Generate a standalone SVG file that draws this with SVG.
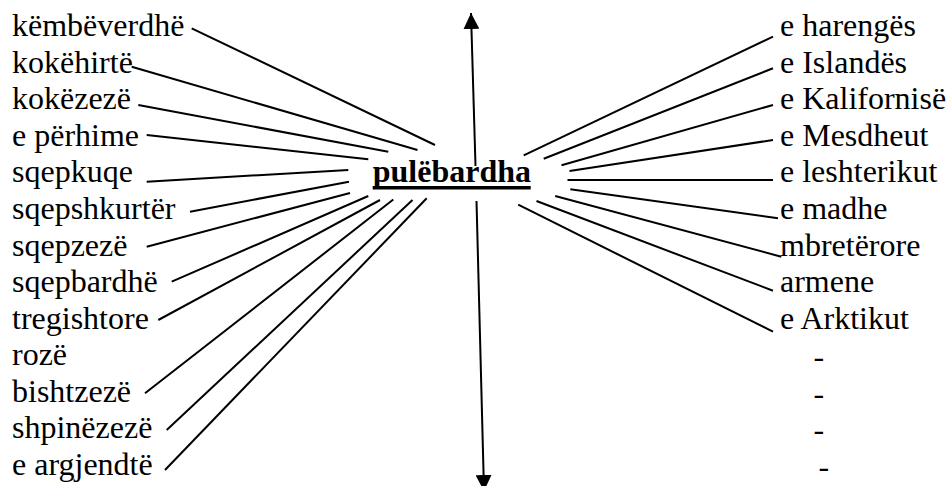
<svg xmlns="http://www.w3.org/2000/svg" width="948" height="486" viewBox="0 0 948 486">
<defs>
<style>
.t{font-family:'Liberation Serif','Times New Roman',Times,serif;font-size:32px;fill:#000}
.c{font-weight:bold}
.ln{stroke:#000;stroke-width:2;fill:none}
</style>
<marker id="ah" markerUnits="userSpaceOnUse" markerWidth="16" markerHeight="16" refX="16" refY="8" orient="auto"><path d="M0,0 L16,8 L0,16 z" fill="#000"/></marker>
</defs>
<rect width="948" height="486" fill="#fff"/>
<g id="center" class="t">
<text class="t c" x="372.7" y="182">pulëbardha</text>
<rect x="372.7" y="186" width="158" height="3.5" fill="#000"/>
</g>
<g id="left-labels" class="t">
<g id="l1"><text class="t" x="12" y="36">këmbëverdhë</text></g>
<g id="l2"><text class="t" x="12" y="72.6">kokëhirtë</text></g>
<g id="l3"><text class="t" x="12" y="109.2">kokëzezë</text></g>
<g id="l4"><text class="t" x="12" y="145.7">e përhime</text></g>
<g id="l5"><text class="t" x="12" y="182.3">sqepkuqe</text></g>
<g id="l6"><text class="t" x="12" y="218.9">sqepshkurtër</text></g>
<g id="l7"><text class="t" x="12" y="255.5">sqepzezë</text></g>
<g id="l8"><text class="t" x="12" y="292.1">sqepbardhë</text></g>
<g id="l9"><text class="t" x="12" y="328.6">tregishtore</text></g>
<g id="l10"><text class="t" x="12" y="365.2">rozë</text></g>
<g id="l11"><text class="t" x="12" y="401.8">bishtzezë</text></g>
<g id="l12"><text class="t" x="12" y="438.4">shpinëzezë</text></g>
<g id="l13"><text class="t" x="12" y="475">e argjendtë</text></g>
</g>
<g id="right-labels" class="t">
<g id="r1"><text class="t" x="780" y="36">e harengës</text></g>
<g id="r2"><text class="t" x="780" y="72.6">e Islandës</text></g>
<g id="r3"><text class="t" x="780" y="109.2">e Kalifornisë</text></g>
<g id="r4"><text class="t" x="780" y="145.7">e Mesdheut</text></g>
<g id="r5"><text class="t" x="780" y="182.3">e leshterikut</text></g>
<g id="r6"><text class="t" x="780" y="218.9">e madhe</text></g>
<g id="r7"><text class="t" x="780" y="255.5">mbretërore</text></g>
<g id="r8"><text class="t" x="780" y="292.1">armene</text></g>
<g id="r9"><text class="t" x="780" y="328.6">e Arktikut</text></g>
<g id="r10"><text class="t" x="813.5" y="367">-</text></g>
<g id="r11"><text class="t" x="813.5" y="403.6">-</text></g>
<g id="r12"><text class="t" x="813.5" y="440.2">-</text></g>
<g id="r13"><text class="t" x="818.5" y="476.8">-</text></g>
</g>
<g id="connectors" class="ln">
<line x1="191.7" y1="28.3" x2="435" y2="145"/>
<line x1="131.7" y1="66.7" x2="417.5" y2="150"/>
<line x1="138.3" y1="105" x2="388.3" y2="151.7"/>
<line x1="146.7" y1="135" x2="368.3" y2="159.3"/>
<line x1="146.7" y1="181.7" x2="348.3" y2="170"/>
<line x1="190" y1="211.7" x2="349" y2="181.7"/>
<line x1="146.7" y1="246.7" x2="350" y2="193"/>
<line x1="171.7" y1="281.7" x2="368.3" y2="196"/>
<line x1="158.3" y1="320" x2="380" y2="200"/>
<line x1="145" y1="393.3" x2="393.3" y2="199.5"/>
<line x1="166.7" y1="430" x2="412.5" y2="200"/>
<line x1="165" y1="470" x2="426.7" y2="198.3"/>
<line x1="523.7" y1="155.3" x2="773" y2="36.7"/>
<line x1="543.7" y1="158.7" x2="773" y2="68.3"/>
<line x1="561.5" y1="165.3" x2="773" y2="105"/>
<line x1="569.5" y1="171" x2="773" y2="140"/>
<line x1="567.5" y1="180" x2="773" y2="180"/>
<line x1="570.3" y1="189.2" x2="778" y2="218.3"/>
<line x1="555.2" y1="196" x2="781.3" y2="256.7"/>
<line x1="536.5" y1="201" x2="773" y2="290.7"/>
<line x1="518.2" y1="204.7" x2="773" y2="331.7"/>
<line x1="475.5" y1="166" x2="471" y2="13" marker-end="url(#ah)"/>
<line x1="476.5" y1="201" x2="484" y2="491" marker-end="url(#ah)"/>
</g>
</svg>
